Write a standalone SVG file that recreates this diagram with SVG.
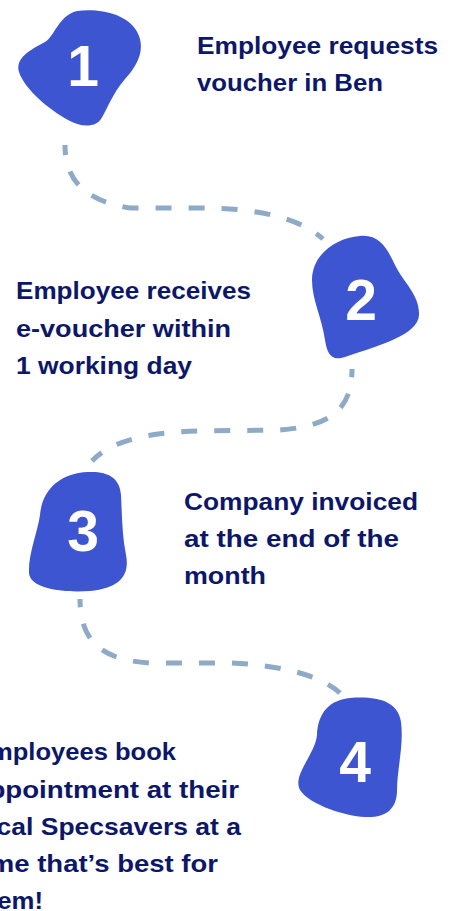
<svg xmlns="http://www.w3.org/2000/svg" width="457" height="911" viewBox="0 0 457 911">
<style>
.blob{fill:#3d55d1}
.num{fill:#ffffff;font-family:"Liberation Sans",Arial,sans-serif;font-weight:700;font-size:57px;text-anchor:middle}
.lbl{fill:#0c176a;font-family:"Liberation Sans",Arial,sans-serif;font-weight:700;font-size:24px}
.dash{fill:none;stroke:#8eaac6;stroke-width:5;stroke-dasharray:16 17}
</style>
<rect width="457" height="911" fill="#ffffff"/>
<g id="connectors">
<path class="dash" stroke-dashoffset="6" d="M65,145 C65,180 85,201 130,208 L200,208 C258,208 300,218 323,239"/>
<path class="dash" stroke-dashoffset="8" d="M352,369 C352,410 330,426 280,430 L200,431 C150,432 112,440 92,461"/>
<path class="dash" stroke-dashoffset="8" d="M80,599 C80,640 100,660 150,663 L230,663 C280,665 320,675 340,693"/>
</g>
<g id="step1">
<path class="blob" d="M77,11 C100,8 126,14 136,30 C146,46 140,63 125,79 C112,94 107,110 101,119 C95,128 80,127 68,120 C50,110 25,90 19,72 C15,58 30,50 45,42 C55,36 58,16 77,11 Z"/>
<text class="num" x="83" y="86">1</text>
<text class="lbl" x="197" y="54" textLength="241" lengthAdjust="spacingAndGlyphs">Employee requests</text>
<text class="lbl" x="197" y="91" textLength="186" lengthAdjust="spacingAndGlyphs">voucher in Ben</text>
</g>
<g id="step2">
<path class="blob" d="M360,236 C380,234 388,250 395,265 C403,282 420,295 419,315 C418,335 380,345 345,357 C330,362 327,352 325,340 C322,318 312,300 312,280 C312,255 335,238 360,236 Z"/>
<text class="num" x="361" y="320">2</text>
<text class="lbl" x="16" y="299" textLength="235" lengthAdjust="spacingAndGlyphs">Employee receives</text>
<text class="lbl" x="16" y="337" textLength="215" lengthAdjust="spacingAndGlyphs">e-voucher within</text>
<text class="lbl" x="16" y="374" textLength="176" lengthAdjust="spacingAndGlyphs">1 working day</text>
</g>
<g id="step3">
<path class="blob" d="M88,472 C108,471 120,478 121,495 C122,515 122,535 126,555 C130,575 120,588 90,591 C60,593 30,588 29,573 C28,555 38,530 40,515 C42,490 60,473 88,472 Z"/>
<text class="num" x="83" y="551">3</text>
<text class="lbl" x="184" y="510" textLength="234" lengthAdjust="spacingAndGlyphs">Company invoiced</text>
<text class="lbl" x="184" y="547" textLength="215" lengthAdjust="spacingAndGlyphs">at the end of the</text>
<text class="lbl" x="184" y="584" textLength="82" lengthAdjust="spacingAndGlyphs">month</text>
</g>
<g id="step4">
<path class="blob" d="M350,698 C375,696 398,700 401,722 C404,745 397,770 397,790 C397,810 385,818 365,817 C345,816 310,805 300,790 C292,775 315,755 317,735 C318,712 330,700 350,698 Z"/>
<text class="num" x="355" y="782">4</text>
<text class="lbl" x="-27" y="760" textLength="203" lengthAdjust="spacingAndGlyphs">Employees book</text>
<text class="lbl" x="-27" y="798" textLength="266" lengthAdjust="spacingAndGlyphs">appointment at their</text>
<text class="lbl" x="-27" y="835" textLength="268" lengthAdjust="spacingAndGlyphs">local Specsavers at a</text>
<text class="lbl" x="-27" y="872" textLength="245" lengthAdjust="spacingAndGlyphs">time that’s best for</text>
<text class="lbl" x="-27" y="909" textLength="70" lengthAdjust="spacingAndGlyphs">them!</text>
</g>
</svg>
